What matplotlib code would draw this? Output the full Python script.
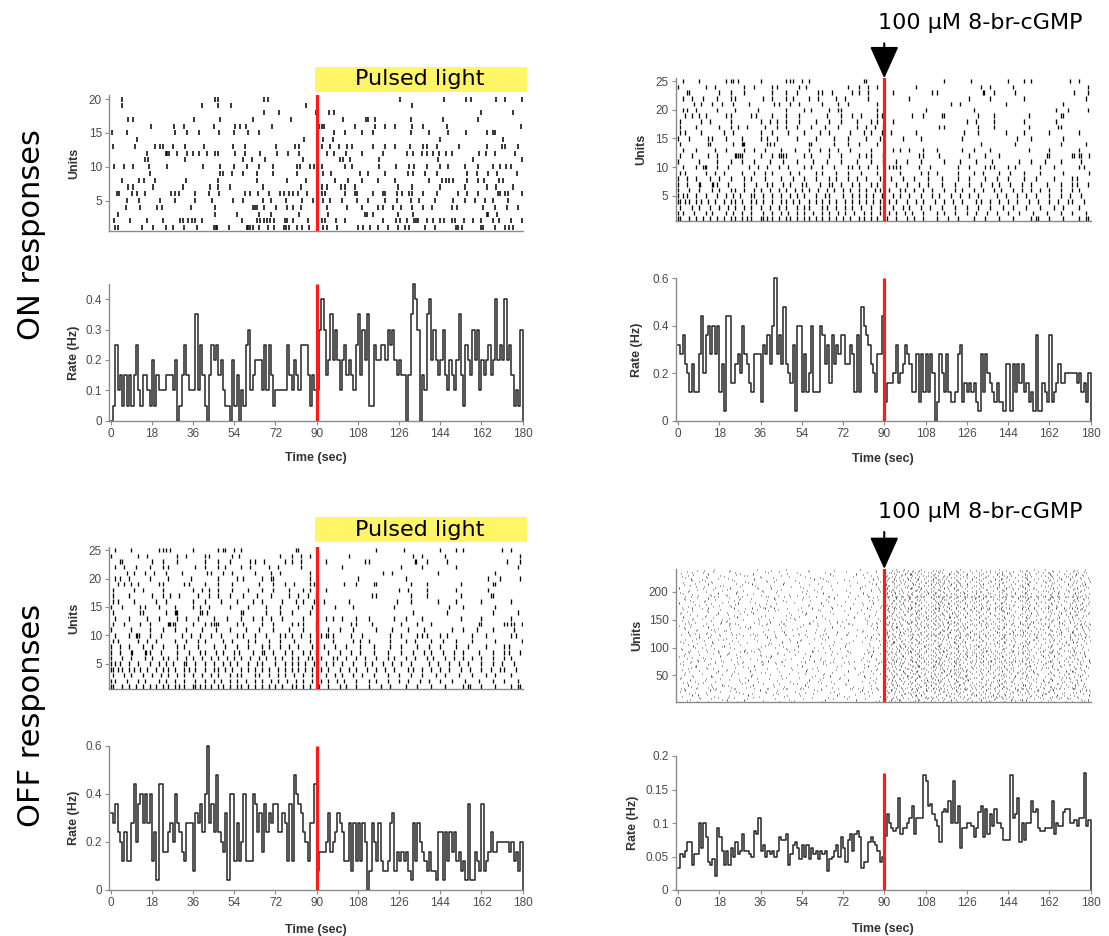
import numpy as np
import matplotlib.pyplot as plt
from matplotlib.transforms import blended_transform_factory
from matplotlib.patches import Rectangle

plt.rcParams['font.family'] = ['Liberation Sans', 'DejaVu Sans']

# ---------------- data ----------------
time_ticks = [0, 18, 36, 54, 72, 90, 108, 126, 144, 162, 180]
stim_time = 90

# ON responses, pulsed light: population rate (Hz), 1 s bins
on_light_rate = [
    0, 0.05, 0.25, 0.1, 0.15, 0.05, 0.15, 0.05, 0.15, 0.05,
    0.15, 0.25, 0.1, 0.05, 0.15, 0.15, 0.1, 0.05, 0.2, 0.05,
    0.15, 0.1, 0.1, 0.1, 0.15, 0.15, 0.15, 0.1, 0.2, 0,
    0.05, 0.15, 0.25, 0.15, 0.1, 0.1, 0.1, 0.35, 0.1, 0.25,
    0.15, 0.05, 0, 0.15, 0.25, 0.2, 0.25, 0.15, 0.2, 0.1,
    0.05, 0.05, 0, 0.2, 0.05, 0.15, 0, 0.1, 0.05, 0.25,
    0.3, 0.1, 0.15, 0.2, 0.2, 0.2, 0.1, 0.25, 0.1, 0.25,
    0.15, 0.05, 0.1, 0.1, 0.1, 0.1, 0.1, 0.25, 0.15, 0.1,
    0.2, 0.15, 0.1, 0.25, 0.25, 0.25, 0.15, 0.05, 0.15, 0.1,
    0.1, 0.3, 0.4, 0.3, 0.15, 0.2, 0.35, 0.2, 0.3, 0.2,
    0.1, 0.2, 0.25, 0.15, 0.2, 0.15, 0.1, 0.25, 0.35, 0.15,
    0.3, 0.2, 0.35, 0.05, 0.05, 0.25, 0.2, 0.2, 0.25, 0.25,
    0.2, 0.3, 0.25, 0.3, 0.2, 0.15, 0.2, 0.15, 0.15, 0,
    0.15, 0.35, 0.45, 0.4, 0.3, 0, 0.15, 0.1, 0.35, 0.4,
    0.2, 0.3, 0.2, 0.15, 0.2, 0.3, 0.15, 0.1, 0.2, 0.15,
    0.1, 0.2, 0.35, 0.15, 0.05, 0.25, 0.2, 0.15, 0.3, 0.2,
    0.3, 0.1, 0.2, 0.15, 0.2, 0.25, 0.15, 0.2, 0.4, 0.2,
    0.25, 0.2, 0.4, 0.2, 0.25, 0.15, 0.05, 0.1, 0.05, 0.3,
]

# panel shown twice (cGMP ON / pulsed light OFF): population rate (Hz)
shared_rate = [
    0.32, 0.28, 0.36, 0.24, 0.2, 0.12, 0.24, 0.12, 0.12, 0.28,
    0.44, 0.2, 0.36, 0.4, 0.28, 0.4, 0.28, 0.4, 0.12, 0.24,
    0.04, 0.44, 0.44, 0.16, 0.16, 0.24, 0.28, 0.2, 0.4, 0.28,
    0.24, 0.16, 0.12, 0.28, 0.28, 0.28, 0.08, 0.32, 0.28, 0.36,
    0.24, 0.4, 0.6, 0.28, 0.36, 0.24, 0.48, 0.24, 0.2, 0.16,
    0.32, 0.04, 0.4, 0.4, 0.12, 0.28, 0.12, 0.2, 0.4, 0.12,
    0.12, 0.12, 0.4, 0.36, 0.24, 0.32, 0.16, 0.36, 0.24, 0.32,
    0.28, 0.36, 0.36, 0.24, 0.24, 0.32, 0.28, 0.12, 0.36, 0.12,
    0.48, 0.4, 0.36, 0.32, 0.24, 0.2, 0.12, 0.28, 0.28, 0.44,
    0.08, 0.16, 0.16, 0.16, 0.2, 0.32, 0.16, 0.2, 0.24, 0.32,
    0.28, 0.24, 0.12, 0.12, 0.28, 0.08, 0.28, 0.12, 0.28, 0.12,
    0.28, 0.2, 0, 0.08, 0.28, 0.2, 0.12, 0.28, 0.12, 0.08,
    0.08, 0.12, 0.28, 0.32, 0.08, 0.16, 0.12, 0.16, 0.12, 0.16,
    0.08, 0.04, 0.28, 0.12, 0.28, 0.2, 0.16, 0.12, 0.08, 0.16,
    0.08, 0.08, 0.04, 0.24, 0.24, 0.04, 0.24, 0.12, 0.24, 0.16,
    0.24, 0.12, 0.16, 0.08, 0.12, 0.04, 0.36, 0.04, 0.04, 0.16,
    0.12, 0.08, 0.36, 0.08, 0.12, 0.16, 0.24, 0.16, 0.16, 0.2,
    0.2, 0.2, 0.2, 0.2, 0.16, 0.2, 0.12, 0.16, 0.08, 0.2,
]

# OFF responses, 8-br-cGMP: population rate (Hz)
off_cgmp_rate = [
    0.033, 0.054, 0.05, 0.058, 0.071, 0.071, 0.038, 0.054, 0.054, 0.1,
    0.063, 0.1, 0.079, 0.042, 0.038, 0.046, 0.021, 0.092, 0.079, 0.058,
    0.038, 0.058, 0.038, 0.063, 0.05, 0.071, 0.054, 0.058, 0.083, 0.058,
    0.058, 0.054, 0.05, 0.088, 0.083, 0.108, 0.058, 0.067, 0.05, 0.058,
    0.054, 0.058, 0.05, 0.058, 0.079, 0.075, 0.075, 0.083, 0.038, 0.054,
    0.067, 0.071, 0.063, 0.046, 0.067, 0.05, 0.067, 0.046, 0.063, 0.054,
    0.058, 0.046, 0.058, 0.054, 0.058, 0.029, 0.046, 0.05, 0.058, 0.067,
    0.05, 0.079, 0.063, 0.042, 0.075, 0.083, 0.058, 0.083, 0.088, 0.079,
    0.033, 0.042, 0.042, 0.071, 0.079, 0.071, 0.067, 0.058, 0.042, 0.05,
    0.08, 0.113, 0.1, 0.092, 0.088, 0.092, 0.137, 0.083, 0.092, 0.092,
    0.1, 0.108, 0.125, 0.083, 0.108, 0.108, 0.108, 0.171, 0.162, 0.125,
    0.129, 0.113, 0.104, 0.096, 0.071, 0.117, 0.121, 0.117, 0.133, 0.1,
    0.163, 0.1, 0.125, 0.063, 0.092, 0.092, 0.1, 0.1, 0.096, 0.079,
    0.092, 0.117, 0.125, 0.079, 0.121, 0.083, 0.113, 0.096, 0.121, 0.1,
    0.1, 0.092, 0.075, 0.075, 0.075, 0.171, 0.108, 0.113, 0.137, 0.071,
    0.1, 0.075, 0.1, 0.1, 0.133, 0.117, 0.121, 0.092, 0.088, 0.088,
    0.092, 0.092, 0.092, 0.133, 0.083, 0.1, 0.096, 0.096, 0.117, 0.121,
    0.121, 0.1, 0.1, 0.104, 0.096, 0.108, 0.108, 0.175, 0.096, 0.104,
]

# spike times (s), one list per unit, unit 1 first
on_light_spikes = [
    [1.9, 3.3, 13.5, 18.6, 24.2, 27.4, 32, 37.6, 45.1, 46, 46.6, 51.8, 59.4, 60.1, 60.9, 62, 64.9, 68.9, 71.4, 75.7, 76.6, 78.1, 81.6, 83.4, 86.8, 92.9, 94.4, 99, 108.2, 110.4, 113.3, 116.9, 121.3, 125.7, 128.6, 130.5, 137.3, 141.7, 150.9, 151.9, 153.3, 161.6, 162.5, 167.9, 172.3, 174.2, 175.6],
    [1.5, 8.4, 16, 23, 30.3, 31.5, 33.9, 35.4, 36.8, 39.8, 57.2, 63.8, 65.2, 67, 68.2, 69.6, 71.4, 76.2, 76.9, 79.8, 86.4, 92.2, 93.6, 98.4, 102.4, 118.8, 124.7, 126.4, 129.3, 132.5, 133.4, 134.4, 138.1, 141, 143.9, 145.6, 149, 150.4, 154.4, 158.4, 161.6, 167.2, 169.8, 174.7, 179.6],
    [3.3, 45.6, 55, 64.9, 69.9, 82.4, 95.1, 111.1, 112.1, 114.8, 125.7, 132.2, 164.3, 165, 168.6],
    [6.7, 12.8, 20.1, 22.3, 35, 45.6, 62.3, 63.1, 64.1, 67, 72.2, 76.9, 79.8, 83, 94.4, 103.1, 109.7, 116.9, 118.8, 123.5, 126.7, 131.5, 136.6, 140.2, 149, 151.2, 162.8, 167.9, 173, 178.1],
    [7, 12.5, 21.6, 28.1, 36.8, 44.1, 53.6, 57.7, 66.7, 69.9, 76.6, 83.4, 88.5, 92.9, 95.8, 100.9, 107.5, 112.6, 119.8, 125.2, 131.1, 134.8, 141.7, 149.4, 154.8, 159.2, 163.5, 167.2, 173.7],
    [2.9, 3.8, 9.2, 11.7, 15, 26.2, 28.1, 30, 36.8, 43.1, 47.5, 58.7, 60.9, 64.5, 69.3, 74, 75.7, 78.1, 79.8, 82, 85.9, 92.2, 93.6, 102.4, 106.7, 107.5, 114.8, 119.1, 119.8, 124.9, 127.1, 130.5, 131.5, 136.6, 142.4, 151.9, 155.8, 160.6, 169.4, 170.1, 172.3, 173.7, 179.6],
    [7.7, 9.6, 18.6, 31.7, 43.4, 47, 52.1, 66.4, 83, 92.2, 94.4, 100.5, 102.4, 106.7, 125.7, 131.5, 143.9, 154.8, 164.3, 168.3, 175.9],
    [4.8, 12.5, 14.6, 19.4, 32.9, 47, 63.8, 76.9, 85.3, 98, 103.8, 109.7, 116.9, 124.2, 139.2, 144.6, 146.5, 148, 149.7, 155.8, 160.6, 163.1, 169.8, 171.5],
    [17.2, 47.8, 48.9, 52.9, 57.7, 63.8, 71.1, 81.3, 92.6, 96.1, 108.9, 112.6, 119.8, 130, 132.2, 137.3, 142.4, 155.5, 159.9, 165, 168.9, 177.7],
    [1.5, 5.8, 9.6, 16.9, 24.8, 40.2, 47.8, 53.9, 59.7, 64.9, 71.1, 81.6, 82.7, 87.1, 88.8, 92.2, 102.4, 105.3, 117.4, 124.7, 130.5, 132.5, 138.1, 143.9, 147.5, 154.8, 160.6, 167.2, 170.1, 172.7, 174.7],
    [15, 16.5, 32.5, 57.7, 61.6, 67.4, 84.2, 100.2, 101.4, 104.6, 117.4, 143.1, 158.4, 179.5],
    [15.7, 24.2, 24.8, 25.6, 28.8, 33.2, 36.1, 38.7, 41.9, 45.6, 47, 54.3, 58.7, 65.2, 72.5, 77.6, 82.4, 90, 94.4, 97.6, 102.8, 109.7, 118.8, 129.3, 132.2, 135.9, 138.1, 140.7, 143.6, 146.5, 149, 161.1, 164, 167.9, 176.6],
    [1.2, 10.6, 19.4, 21.6, 23, 27.4, 32.5, 40.8, 53.3, 58.7, 72.2, 80.5, 82.4, 92.2, 95.8, 99.9, 103.4, 105.3, 114.8, 119.8, 124.2, 130.8, 136.6, 138.1, 142.4, 152.3, 164.3, 170.8, 172.3, 178.1],
    [11.4, 84.5, 92.9, 97.3, 143.9, 171.5],
    [0.4, 7, 28.1, 33.5, 38.7, 47.5, 53.9, 60.1, 64.9, 97.6, 102.4, 109.7, 114.8, 131.1, 139.2, 147.5, 155.2, 164.3, 167.2, 167.9],
    [17.5, 27.7, 32, 45.3, 54.3, 56.5, 59.1, 70.3, 91.2, 92.2, 93.2, 106.7, 115.5, 119.8, 124.2, 131.5, 136.6, 146.8, 179.1],
    [7.7, 9.9, 36.6, 47.8, 62, 78.6, 101.4, 111.5, 112.6, 115.5, 131.2, 145.3, 160.6],
    [67, 73.7, 89.7, 95.5, 97.6, 161.6, 175.6],
    [4.8, 39.7, 47, 52.4, 85.3, 131.5],
    [4.8, 45.6, 47, 66.9, 68.9, 126.4, 145.6, 155.2, 157.3, 168.3, 172.3, 179.5],
]

shared_spikes = [
    [0, 1, 5, 8, 11, 14, 17, 20, 23, 25, 28, 30, 32, 36, 37, 39, 41, 44, 47, 49, 52, 55, 57, 60, 63, 66, 69, 72, 75, 79, 81, 84, 87, 91, 95, 100, 103, 107, 113, 118, 122, 129, 134, 140, 146, 154, 156, 157, 162, 168, 175, 178, 179],
    [0, 2, 7, 12, 15, 21, 24, 28, 32, 37, 41, 45, 48, 52, 55, 59, 63, 66, 70, 73, 77, 81, 84, 88, 92, 95, 99, 102, 107, 113, 116, 121, 126, 130, 135, 139, 144, 149, 155, 161, 167, 172, 178],
    [1, 6, 9, 14, 18, 22, 25, 29, 32, 36, 40, 44, 47, 52, 55, 57, 63, 65, 69, 73, 76, 80, 84, 88, 94, 98, 101, 106, 110, 115, 121, 126, 131, 136, 142, 146, 152, 158, 164, 168, 175],
    [0, 1, 3, 5, 8, 10, 13, 16, 20, 23, 25, 28, 32, 34, 37, 41, 45, 47, 50, 53, 57, 60, 63, 66, 69, 73, 76, 79, 82, 85, 88, 92, 95, 100, 104, 107, 112, 116, 120, 124, 130, 132, 136, 140, 144, 148, 153, 157, 162, 166, 170, 172, 177],
    [0, 2, 4, 8, 12, 17, 21, 24, 27, 32, 33, 37, 41, 45, 49, 52, 55, 60, 64, 66, 72, 76, 79, 82, 85, 89, 94, 97, 101, 106, 111, 114, 119, 123, 127, 131, 139, 143, 148, 152, 156, 162, 167, 171, 176],
    [0, 5, 9, 15, 18, 23, 25, 29, 33, 36, 40, 44, 47, 51, 54, 57, 61, 65, 68, 72, 75, 79, 82, 86, 88, 92, 97, 99, 103, 107, 111, 116, 121, 124, 129, 133, 138, 141, 146, 150, 154, 158, 162, 167, 172, 175],
    [0, 4, 9, 9.5, 15, 15.3, 17, 22, 29, 34, 39, 41, 46, 49, 54, 56, 62, 66, 67, 71, 76, 79, 84, 87, 89.5, 95, 100, 105, 109, 115, 121, 127, 132, 137, 140, 145, 150, 154, 161, 167, 172, 174, 179],
    [0, 4, 8, 14, 18, 23, 29, 32, 38, 45, 50, 55, 60, 66, 69, 74, 78, 82, 88, 93, 98, 103, 109, 115, 122, 127, 134, 139, 144, 151, 156, 164, 172, 174],
    [1, 3, 12, 16, 20, 28, 33, 38, 41, 49, 53, 60, 63, 69, 74, 80, 87, 97, 106, 109, 113, 122, 129, 133, 140, 145, 151, 158, 168, 179.5],
    [2, 8, 11, 11.6, 12.4, 17, 22, 31, 35, 39, 44, 48, 55, 58, 63, 68, 74, 76, 79, 83, 87, 92, 94, 95, 97, 105, 110, 122, 127, 134, 136, 138, 144, 147, 158, 164, 175, 177],
    [0, 9, 17, 23, 28, 33, 40, 46, 52, 59, 65, 71, 78, 84, 89.5, 95, 100, 106, 116, 123, 130, 137, 149, 154, 160, 167, 176],
    [1, 6, 13, 17, 25, 25.5, 26, 27, 28, 36, 41, 44, 45, 46, 47, 55, 58, 66, 71, 79, 82, 84, 89.5, 105, 107, 114, 127, 134, 140, 161, 162, 172, 173, 175, 176, 179.5],
    [2, 8, 16, 21, 29, 33, 38, 45, 51, 57, 62, 66, 70, 75, 84, 94, 97, 101, 107, 113, 124, 129, 136, 153, 162, 175],
    [1, 13, 14, 24, 28, 28.5, 29, 39, 40, 42, 57, 58, 68, 74, 79, 87, 132, 147, 167, 178],
    [0, 5, 13, 15, 21, 28, 36, 39, 43, 52, 60, 68, 74, 82, 88, 98, 106, 124, 148, 154, 168],
    [1, 3, 10, 20, 24, 36, 41, 48, 55, 62, 66, 75, 81, 84, 89, 93, 104, 125, 131, 143, 151, 162, 175],
    [1, 8, 18, 23, 26, 30, 38, 43, 47, 52, 58, 64, 70, 78, 82, 86, 89.5, 114, 116, 131, 138, 153, 166, 167],
    [1, 10, 14, 23, 36, 40, 43, 47, 53, 60, 66, 71, 78, 84, 87, 94, 126, 130, 138, 151, 165],
    [3, 6, 9, 12, 21, 23, 32, 34, 41, 47, 53, 65, 71, 76, 80, 87, 89, 102, 107, 115, 116, 131, 138, 153, 167, 168],
    [2, 4, 8, 17, 25, 35, 47, 55, 58, 66, 70, 71, 87, 108, 129, 165, 170, 179],
    [7, 10, 15, 19, 24, 31, 42, 44, 49, 53, 63, 70, 74, 87, 119, 123, 143, 168],
    [2, 6, 11, 17, 23, 25, 37, 41, 47, 50, 57, 61, 69, 73, 83, 101, 127, 136, 151, 178],
    [4, 5, 18, 23, 29, 41, 47, 52, 61, 63, 67, 76, 79, 83, 94, 111, 113, 133, 133.5, 138, 147, 173, 179],
    [0, 12, 16, 29, 33, 41, 43, 53, 56, 74, 79, 83, 87, 104, 132, 136, 146, 179],
    [2, 9, 21, 23, 24, 26, 36, 47, 49, 50, 54, 57, 81, 82, 116, 128, 144, 151, 154, 171, 175],
]

# 240-unit raster, one string per unit (unit 1 first).
# code: first char = tens of seconds (0-9, a-h); second char = seconds within
# the ten, a digit for whole seconds or a-j for n + 0.5 s
off_cgmp_codes = [
    "0g 3b 3e 72 94 9j a6 bd c2 c9 ea f1 h3", "1a 26 5h 83 9b b4 b7 c3 dc ei f6 g0 gf hd",
    "08 44 49 97 a1 ac bh d6 e2 ec f8 g4 hb", "13 2f 6c 86 92 9e a7 b2 cb c5 d0 f3 g9 h6",
    "0d 37 5a 8h a3 b0 bf c8 d4 df e7 g1 h7", "21 2i 64 7h 96 9c ae b9 d2 e5 f0 fb hi",
    "05 19 48 9g a5 b3 c1 c6 dh e9 gc hf", "30 5e 6h 8b 93 a0 ai c4 d8 e3 ef f5 g6 h1",
    "0j 14 42 7d 9a 9f b6 ba cg d1 eb f9 h0", "17 3c 58 98 a4 a9 b1 c0 dd e1 fh g2 gj",
    "09 24 2b 65 9d ah b5 c7 d3 d9 f2 g7 he", "1f 46 72 7e 91 a2 bc bi c3 dg e6 ea fd h4",
    "0b 35 88 95 a8 b0 ce d5 di e4 f7 g3 ge", "22 4h 53 83 9h a3 b8 c2 c9 e0 f4 g8 hc",
    "06 0i 3a 69 90 a6 ad bg d0 d7 ec fi g5 h9", "1c 41 77 97 ab b3 c6 ch d2 e8 f0 f6 h1",
    "0e 28 5c 5i 81 99 a1 b9 cc d9 e2 f3 gh hg", "32 4d 70 94 9i a7 b4 c0 c8 dd ee g0 ga",
    "12 2g 55 8e 9b ac bh c3 d1 e6 f9 g4 h2", "07 38 4c 66 92 a0 a5 bb ci d6 dj f1 g8 hd",
    "25 3h 79 96 ag b2 b6 c4 e3 e9 fc gb h5", "0a 18 51 68 8c 9e a3 bf cb d3 ef f5 g1 hj",
    "2c 43 6a 91 98 ai b0 c7 d8 e0 f2 fg h5", "03 1d 3f 80 9c a4 a8 bd c1 d4 eh f7 gd h8",
    "16 59 62 87 93 ab b7 c5 cf d0 e4 e8 g2 h9",
    "01 0h 15 1g 24 2e 33 3i 47 4h 53 5e 62 6j 75 7f 84 8g 90 95 9h a2 a8 ad b1 b6 bc bj c3 c8 ce d2 d6 dh e1 e7 ed f0 f4 fb fj g3 g8 ge h2 h6 hc",
    "0c 39 4f 7i 99 a2 b1 be c6 d5 e1 fa g6 h2", "23 2j 5d 86 94 a9 b4 bb c2 cj e3 e7 f9 gg hb",
    "08 13 67 8a 97 9j ae c0 c5 d8 ej f3 g4 h3", "1e 46 4b 92 a1 a6 b9 ch dc e2 f6 fh h0",
    "0f 31 5g 76 9a af b3 c1 d3 d9 eb g2 gc hh", "20 2b 6e 84 96 a3 b7 bf c9 d1 e5 fd g7 hg",
    "04 19 3c 55 89 9f a8 b0 cc d6 e0 f1 fa h3", "14 41 73 93 9d a5 bi c3 c7 dd e8 g0 g9 he",
    "0i 2h 50 5b 98 a0 ab b2 ce d4 eg f4 gf h7", "37 44 68 7c 91 a4 b6 bc c0 d0 e1 ea f8 g5",
    "02 1a 62 8f 9c ah b1 c4 ca dg e3 f0 gh h4", "0d 29 56 83 95 a2 a7 bd c8 d2 dj f3 g1 hb",
    "16 3e 4i 9i a9 b4 c2 d7 e5 ef fj g8 h1", "07 27 61 6g 80 90 a1 b0 b8 cb d1 e2 f6 gb",
    "1b 43 85 97 9e a6 be c5 d9 d4 ec f2 h4", "05 3a 57 74 93 a3 ai b3 c1 cg e0 f9 g3 hf",
    "22 2g 6b 9b a7 b2 bh c6 d5 e6 fe g7 hd", "0a 12 45 86 96 a0 ad c0 c4 dc e9 f1 gc h8",
    "18 34 3j 70 92 9g b5 ba c7 d2 e1 f6 g2 h1", "01 5c 63 8b 98 a4 a8 b6 cd d0 dh f0 fc g9",
    "29 47 7a 8d 9d ab b1 c3 c9 d7 e4 eg gh ha", "0g 1e 58 91 a2 af bc c2 d3 e2 f4 g0 g6 hc",
    "14 3b 66 81 94 9j a5 b0 b9 cf e7 fb h5", "06 23 4e 5j 9a a0 b4 bg c5 d8 e3 ea g4 hi",
    "32 72 7i 97 ae b2 c1 cc d4 dj f7 g8 he", "0c 19 40 63 93 9f a7 b7 c6 d1 eb f2 gd h6",
    "26 2d 55 85 99 a3 ah bb c0 d6 e0 e5 fg h0", "10 48 6d 88 95 ac b3 b8 c8 dc e2 f0 g1 ha",
    "03 36 3h 79 90 9i a6 be c3 d2 e8 f5 g6 hh", "1g 52 67 9c a1 b0 b5 ca d7 eh fa gc h3",
    "0e 24 44 8a 94 a9 ad c2 c7 d0 e4 f1 g2 h2", "17 31 5f 74 98 a4 b6 bi cf d5 e1 fe g9 hb",
    "09 2a 61 84 92 9d a2 b1 c4 db e6 e9 f3 h7", "0b 3d 4j 86 9g a8 b9 c0 c6 d3 ed f8 g5 hf",
    "21 56 6i 92 96 ab b2 bf c1 d8 e0 f4 gf h1", "04 15 3i 77 91 9j a6 b4 ci d2 d6 e5 fb h3",
    "1c 43 58 8g 95 a0 ag b7 c2 cd e3 f0 g4 hd", "0f 2e 6a 81 9b a3 b0 bc c8 d4 ea f6 ga h5",
    "12 3a 49 7g 99 a7 b5 c3 d0 d9 e6 fi g1 hi", "07 28 69 93 9e a2 bb c5 ch e0 f2 g7 hc",
    "0h 33 54 8c 97 a5 ae b1 c0 d6 e2 fd g3 h8", "19 46 71 8f 90 ac b4 bh c9 d1 e8 f3 gg",
    "02 24 5b 6e 96 a1 a9 b6 cc d7 ef f9 h1 hf", "13 3g 81 9a a4 b2 be c3 d3 e4 f5 g8 ha",
    "0a 26 4c 63 94 9h a8 bd c6 cj e1 fb g0 h4", "1d 37 7e 87 9c a0 b3 b9 c1 d5 e9 f1 gd h5",
    "05 2h 55 66 92 ad b0 c4 ca d2 e3 fg g6 hj", "16 42 72 8h 98 9g a6 b5 ch d8 e5 f3 ga",
    "02 0f 16 1j 28 2f 36 3g 45 4e 55 5d 63 6h 74 7g 83 8i 90 94 9b 9i a3 a9 ad b2 b8 bd c1 c7 cc d0 d5 db e0 e4 ea ef f3 f8 fe g1 g6 gc h0 h5 hb",
    "0i 39 59 95 a2 a7 bc c0 d3 dg e7 f0 g2 h9", "11 1i 64 82 9a a5 b1 b6 c8 d6 e2 ei g8 hg",
    "08 34 4g 86 97 9d ab bh c3 d0 e6 f4 fb h9", "23 57 6b 7j 93 a1 b4 c1 cf d8 ec f7 g3 he",
    "0d 1b 49 99 a8 b0 b9 c5 d2 e0 f0 g9 h4", "14 31 68 86 91 9f a4 bd c2 d4 dh f2 g5 hc",
    "06 2f 5e 8a 96 ag b3 b8 cb d9 e4 fc h1", "1a 40 62 7b 9c a2 a6 be c7 d1 e7 f5 g0 h6",
    "00 27 38 84 94 ab b2 c0 c4 d6 eb f1 gb ha", "18 4a 5h 84 98 a5 bg c6 d0 d3 e1 f9 g4 hh",
    "0c 36 73 90 9h a9 b1 cc d8 e5 fe g7 h2", "21 25 51 6g 8e 95 a3 b5 bc c1 d2 eg f3 h3",
    "09 3f 46 9b a6 b0 c8 cf d5 e3 f8 g1 hb", "15 2b 69 81 92 a0 ae b7 c3 d0 e8 fa gf h7",
    "03 43 55 88 97 9e a4 bi c5 d7 e0 f2 g6 h7", "1h 30 75 99 a7 b2 b9 c9 dc e4 f6 g2 hd",
    "0e 22 4d 64 8c 93 ab b4 c0 c6 d1 ea f0 gc h5",
    "04 0i 1c 27 33 3f 48 52 5i 67 74 83 91 95 9c a0 a5 ab b1 b6 bd c2 c8 cf d3 d9 dg e2 e8 ef f3 fa fh g5 gb h1 h7",
    "17 2i 58 85 96 a1 a8 bf c2 d4 e6 f9 g3 hc", "05 3b 61 7d 9a a3 b1 b7 c4 d8 de f1 g8 h0",
    "12 29 4h 96 9j ac b3 c9 d2 e1 f4 gd h2", "0b 35 5a 82 90 a5 b0 bg c6 d6 e5 fc g0 hi",
    "24 47 66 8j 98 a2 a9 b4 cb d0 eb f0 g6 h6", "01 1f 3e 7a 93 9f a6 bc c1 d3 e2 f7 gg",
    "10 42 59 87 97 a0 b8 c0 c7 dd e3 f2 g2 hb", "07 2c 63 85 92 ab b2 b6 cf d5 e8 fh g7 h3",
    "19 36 4f 95 a4 ah b9 c4 d1 e0 f5 g1 hg", "0g 20 52 7c 99 9g a7 bd c2 da e6 fa gc",
    "14 3h 6f 8d 91 a1 b3 c5 c9 d8 e1 f1 g8 h4", "04 27 44 88 96 a9 b0 bi d0 d4 eg f8 g3 ha",
    "1b 39 6h 9c a3 a8 b4 c7 d2 e4 fc h0 hf", "08 22 57 73 93 9i ae b1 c3 dh e9 f2 g5 h8",
    "15 4a 62 83 98 a6 b7 be c1 d6 e0 f6 gh", "02 30 3j 7e 91 a2 ab b3 ca d4 ec f0 g0 hd",
    "1e 45 5b 94 9d a5 c0 c5 d9 e2 f3 g9 h2", "0a 26 68 80 97 a0 ag b8 cd d1 e7 fb g2 h4",
    "11 34 53 8h 92 9h a4 b2 c8 d3 e5 f7 g6 hj", "06 2d 4i 76 9a a8 b5 bb c2 dc e0 f1 gd h7",
    "1j 40 64 95 a1 ad bg c4 d7 eg fe g4 hb", "03 17 5d 8d 99 a6 b0 c1 ci d0 e3 f5 gb h1",
    "2a 48 71 86 93 9g ab b4 c6 d5 e1 f9 g0 he", "0h 33 59 6c 90 a3 a9 bf c0 d2 ea f2 g7 h6",
    "13 25 4c 8b 96 a7 b3 b9 cc d8 e6 fg g3", "09 3i 65 84 9b a2 bh c3 c7 d1 e2 f6 h1 hh",
    "1d 42 56 94 9e a5 b6 ca d4 eb f0 g8 h9", "05 28 6b 7h 97 a0 ai b2 c5 dd e7 f3 gc h3",
    "18 3d 50 82 92 a8 b0 bc c1 d6 e0 f1 g5 hf",
    "01 09 14 1h 25 2d 34 3h 42 4g 55 5c 63 6i 73 7d 85 8h 91 96 9d a1 a6 ac b0 b5 bb bh c3 c9 cf d1 d7 dd e2 e6 ec eh f5 fa fg g2 g7 gd h1 h8 he",
    "0e 31 47 96 a4 ae b7 c2 cg e1 e9 f8 g1 hc", "12 2g 6e 87 9a 9i a9 b3 c6 d3 e4 fd g6 h5",
    "07 3c 52 89 93 a2 b1 bd c9 d0 ee f5 gb hh", "1c 23 5j 74 98 a6 af b8 c3 d5 e0 f2 g0 h2",
    "04 46 69 91 9g b4 bi c7 d9 e6 fa g7 hb", "16 37 4b 80 95 a1 a7 b0 cc d1 e3 f7 ge h7",
    "0h 2a 5f 8a 99 ab b6 c1 c4 d8 e9 f1 g3 h0", "20 45 6d 92 a3 a8 bf c8 d2 ef f4 gc h2",
    "08 14 39 78 96 9d b2 b9 c0 d6 e1 f9 g2 hg", "1f 4j 60 86 9a a0 ae b5 cb d3 e7 f0 gg h9",
    "03 2c 5b 85 93 a5 b1 bc c5 dj e4 fh g5 hd", "17 3a 64 98 9j ab b7 c2 d0 e0 f6 g9 h4",
    "0c 27 4e 72 90 a4 a9 b3 ce d7 eb f2 h0 hi", "13 31 67 8g 95 9f a7 bh c6 d4 e2 fc g1 h6",
    "05 29 53 89 9c a1 b0 b6 c3 d9 e8 f5 g6 hc", "1a 3g 7a 93 ad b4 c0 c9 d2 e0 f1 gb h8",
    "00 22 4g 61 84 97 a6 ai bd c4 d5 eg f9 g4 h3", "15 38 5e 91 9h a3 b2 c7 dd e5 f3 g8 hf",
    "0f 26 44 7f 9b a9 b8 bf c1 d0 e3 fa h5 hj",
    "03 0e 18 22 2c 35 3i 46 4f 57 5h 66 74 7e 82 8g 90 93 9a 9g a4 aa af b3 b9 bf c2 c8 cd d2 d8 de e3 e9 ef f2 f8 fd g0 g6 gb gh h4 h9 hf",
    "12 2e 6a 8e 95 a0 a8 bb c5 dg e2 f0 g0 h7", "07 33 57 86 9d a4 b1 b7 cb d4 e6 f7 gh hc",
    "1i 40 69 92 9j ab bh c0 d1 e9 fe g6 h1", "04 2a 4e 7b 96 a2 a6 b5 c6 d7 e0 f4 gc hh",
    "14 35 5i 88 99 ad b2 bc c3 dc e4 f1 g3 h5", "0b 21 6f 82 90 a7 b0 b9 ch d3 eb fb g8",
    "19 47 51 94 9e a3 bg c7 d0 e1 f6 g1 ha", "06 28 3j 73 98 a1 ai b4 c2 d6 e6 fh gd h2",
    "10 3e 64 8b 93 a5 b1 bd c9 d4 ec f2 g5 he", "0g 22 5a 87 9a 9h a9 b6 c3 d9 e0 f8 gb",
    "15 41 4i 96 a3 ae b2 c0 dd e8 f3 g0 h6", "02 2f 60 7g 91 a8 b8 bi c5 d1 e2 fb g6 hb",
    "1b 36 5c 83 97 9f a4 b3 cb d5 eg f0 ga h0", "08 24 47 83 92 a1 a9 bc c1 d2 e5 f6 h3 hg",
    "12 3h 6c 9c ag b0 b6 c7 d8 e1 fd g2 h8", "05 2b 55 74 95 a5 b4 bf c4 d0 e9 f2 g9 hd",
    "1g 30 49 8f 99 9i ab b8 c2 dh e6 f7 gf h4", "0a 27 6h 81 93 a2 a6 b1 ca d3 e0 f0 g4 hi",
    "17 3c 5f 90 ad b5 bj c6 d6 ed f4 g7 h1", "01 21 48 78 96 9d a8 b2 c3 d1 e4 fg gc h9",
    "13 3b 66 89 98 a4 b0 bb c8 da e2 f1 g1 he", "0d 2i 54 86 92 a0 ah b7 c0 d4 e7 f9 g6 h3",
    "1c 42 6b 9b 9j a5 bd c5 d8 eb f3 gi hc", "06 26 39 72 94 a3 b3 bg c2 d0 e1 f6 g2 h7",
    "18 4d 61 8d 97 a9 ae b6 ch d5 e5 fb g9 hh", "02 34 52 7j 91 a1 b1 b9 c7 d2 ea f0 g3 h5",
    "10 29 4h 95 9g a6 bc c4 de e0 f8 h6 hf",
    "06 13 24 32 3h 4b 58 67 75 82 90 94 9b a0 a6 ab b2 b8 bd c1 c9 ce d2 d8 df e4 ea f0 f5 fc g1 g8 ge h4 hb",
    "0b 37 5d 88 99 a2 a8 b3 c1 d3 e3 f5 g0 ha", "15 23 6g 84 93 9e ab b7 c6 d9 e8 f1 gb h3",
    "04 3f 4a 96 a3 b0 bf c3 d0 e1 fa g5 hg", "1h 2c 5g 71 9a a7 ae b4 c8 d4 e6 f3 g1 h8",
    "09 40 63 8i 92 9i b1 b9 c2 dc e0 f7 ge h1", "12 35 57 8a 97 a5 b6 bd c6 d1 e4 f0 g7 hd",
    "07 2e 69 91 a1 a9 b2 cb d6 eg fd g3 h5", "14 38 4c 76 95 9c ad b8 c0 d2 e3 f2 h1 hi",
    "00 26 62 85 98 a3 b3 bh c5 d8 ea f6 gc h6", "19 3d 5a 80 93 a6 b0 b5 c9 d4 e1 f1 g0 hb",
    "0g 2b 47 9g a2 ab bc c3 de e7 f8 g9 h3", "11 31 65 7c 90 a8 b4 c1 c7 d0 e2 f3 gf h9",
    "05 24 4f 8e 96 9d a5 be c2 d5 e9 fb g4 he", "1b 3i 5h 83 94 a0 b2 b9 cd d1 e5 f0 g8 h2",
    "03 2g 6e 99 a7 af b6 c4 d7 e0 f5 g1 hc", "16 42 54 87 92 9i a4 bg c8 d2 ec f2 gb h7",
    "0c 27 3b 77 97 a1 b1 bb c0 d9 e3 f7 g6 hg", "13 4b 68 95 aa b5 c5 cj d3 e8 fc g2 h4",
    "08 22 5e 85 9b a3 b0 b8 c1 d0 e1 f1 gd hi", "1f 39 60 8c 91 9f a6 bd c6 d6 eb f9 g3 h0",
    "03 0f 17 26 2h 38 46 4i 57 65 6f 74 83 8g 90 92 95 98 9b 9e 9h a1 a4 a7 aa ad ag b0 b3 b6 b9 bc bf bi c2 c5 c8 cb ce ch d1 d4 d7 da dd dg e0 e3 e6 e9 ec ef f1 f4 f7 fa fd fg g0 g3 g6 g9 gc gf gi h2 h5 h8 hb he",
    "0i 21 4d 93 a4 b3 b7 c3 d4 e5 f0 g0 h6", "14 36 5b 7i 97 a0 af bb c9 d1 e9 f6 g5 hd",
    "06 2a 69 89 9a a8 b1 bg c1 d8 e0 f2 gc h2", "1d 30 48 82 93 9j a2 b4 c6 d3 ed f8 g2 hh",
    "02 3c 5f 96 a6 ab b9 c0 d6 e3 f4 g8 h9", "17 25 63 8a 91 9e a9 b2 ce d0 e7 f1 gf h3",
    "0a 4c 75 98 a2 b6 bc c3 d5 e1 fb g3 he", "12 2f 54 88 94 a5 ai b0 c8 db e5 f0 g6 h5",
    "04 37 6a 9c a0 a7 bf c4 d2 e0 f7 g1 ha", "19 43 56 84 92 9h ad b4 c1 d7 eb f2 ga h0",
    "0e 28 3g 73 96 a3 b1 b8 c6 d0 e2 f9 g4 hf", "15 4e 67 8h 9a a8 af bd c2 de e6 f3 h2",
    "08 21 59 84 93 9d a4 b3 cb d4 e1 f6 g9 h7", "1a 3e 62 97 a1 b0 bh c5 d1 e8 fe g2 hc",
    "00 2c 4a 79 91 a6 ab b6 c0 d9 e3 f1 gd h4", "16 34 5e 87 95 9j a2 bb c8 d3 ef f5 g5 hi",
    "0h 27 6c 80 99 a5 b4 c1 c6 d6 e0 f0 g0 h8", "11 49 53 94 ae b1 b7 cd d2 e4 fa g7 h1",
    "05 1j 3d 75 9b a0 a9 bi c3 d0 e9 f3 gc hg", "18 40 6g 8b 92 9f a7 b5 c9 d7 e2 f8 g1 h5",
    "0c 2h 57 96 a3 b2 bd c1 db e5 f0 g6 hb", "13 32 4f 86 9a ac b0 b9 c6 d3 e0 fc h0 hh",
    "07 25 61 8e 94 9i a5 bf c3 d8 e7 f2 g3 h6", "1e 3a 5c 78 90 a8 b3 b6 cc d1 e1 f6 ga hd",
    "02 46 69 97 a2 ah bc c0 d5 eb f1 g4 h2", "14 29 3i 83 93 9d b1 b8 c7 d0 e3 fd g8 hj",
    "09 4b 65 88 99 a6 ad b4 c2 dg e6 f3 g0 h7", "1b 24 51 7e 95 a1 b0 bh c5 d2 e0 f9 gb h4",
    "06 38 6e 91 9g a9 b6 cb d6 e8 f0 g5 hc", "10 2d 4c 72 98 a4 b3 bd c1 d1 e4 f5 g2 h9",
    "0f 33 59 85 94 a0 ae b1 c8 d8 ea f2 g7 h1", "17 2b 63 87 9b a7 b5 bg c3 d3 e1 f7 gd hf",
    "03 41 5h 92 9j a3 b9 c6 d0 e7 f1 g1 h5", "1c 36 6b 81 96 ab b2 bc c0 dd e3 fb g6 hi",
    "0b 20 48 8g 9a a5 a8 b7 c9 d4 e0 f4 g3 h0", "12 3f 55 76 93 9e b0 bf c4 d7 ed f0 g9 hb",
    "04 2i 6h 97 a2 ag b3 c1 d1 e5 f8 gc h3", "18 30 4e 84 91 a9 b6 bb cf d5 e2 f2 g0 hg",
    "0g 25 53 8a 95 9h a4 b1 c3 d2 e8 fd g5 h6", "13 3c 66 7h 99 a1 ab b8 c6 d9 e1 f1 g2 hd",
    "01 27 4h 94 a6 b2 bi c0 d3 ee f6 g8 h1", "1a 39 5b 82 9c 9j a9 b5 c8 d6 e0 f3 gb h8",
    "06 2e 64 89 92 a3 b0 bd c2 d1 e4 f9 g1 he", "15 44 57 73 96 a7 ae b3 cb d8 e6 f0 g6 h2",
    "0d 22 3h 86 90 9f a2 b9 c4 d4 e1 f7 gd h7", "11 4a 68 86 98 a5 b4 bc c1 d0 e9 f2 g3 hc",
    "08 2c 5g 93 a0 ac b1 c7 d6 e3 fb g9 h4", "1f 34 47 79 95 9i a6 bf c3 d2 e0 f5 g0 hh",
]


def decode(code):
    times = []
    for tok in code.split():
        c = tok[1]
        sec = int(c) if c.isdigit() else ord(c) - ord('a') + 0.5
        times.append(int(tok[0], 18) * 10 + sec + 0.25)
    return times


off_cgmp_spikes = [decode(c) for c in off_cgmp_codes]

# ---------------- layout ----------------
W, H = 1109, 936
fig = plt.figure(figsize=(W / 100, H / 100), dpi=100)

SPINE = '#8a8a8a'
TXT = '#4a4a4a'
RED = '#ff1a1a'


def add_ax(x0, y0, x1, y1):
    return fig.add_axes([x0 / W, 1 - y1 / H, (x1 - x0) / W, (y1 - y0) / H])


def style(ax, xlim):
    for s in ['top', 'right']:
        ax.spines[s].set_visible(False)
    for s in ['left', 'bottom']:
        ax.spines[s].set_color(SPINE)
        ax.spines[s].set_linewidth(1.0)
    ax.tick_params(direction='out', length=3, width=0.8, color=SPINE,
                   labelcolor=TXT, labelsize=8.5, pad=2)
    ax.set_xlim(*xlim)


def raster(ax, spikes, xlim, ylim, yticks, ll, lw, color, labx):
    style(ax, xlim)
    ax.eventplot(spikes, lineoffsets=np.arange(1, len(spikes) + 1),
                 linelengths=ll, linewidths=lw, colors=color)
    ax.set_ylim(*ylim)
    ax.set_xticks([])
    ax.set_yticks(yticks)
    ax.axvline(stim_time, color=RED, lw=2.3, zorder=5)
    ax.set_ylabel('Units', fontsize=9, fontweight='bold', color='#333333')
    ax.yaxis.set_label_coords(labx, 0.5)


def rate_plot(ax, rate, xlim, top, yticks, red_top, labx, laby):
    style(ax, xlim)
    t = np.arange(len(rate) + 1)
    ax.step(t, np.append(rate, 0), where='post', color='#262626', lw=1.1,
            clip_on=False)
    ax.set_ylim(0, top)
    ax.set_yticks(yticks)
    ax.set_yticklabels([f'{v:g}' for v in yticks])
    ax.set_xticks(time_ticks)
    ax.vlines(stim_time, 0, red_top, color=RED, lw=2.3, zorder=5)
    ax.set_ylabel('Rate (Hz)', fontsize=9, fontweight='bold', color='#333333')
    ax.set_xlabel('Time (sec)', fontsize=9, fontweight='bold', color='#333333')
    ax.yaxis.set_label_coords(labx, 0.5)
    ax.xaxis.set_label_coords(0.5, laby)


LX = (-0.75, 180.15)
RX = (-1.1, 180)

# ON, pulsed light
ax1 = add_ax(109, 95, 523, 231)
raster(ax1, on_light_spikes, LX, (0.5, 20.6), [5, 10, 15, 20], 0.75, 1.1, 'k', -0.07)
ax2 = add_ax(109, 284.1, 523, 420.7)
rate_plot(ax2, on_light_rate, LX, 0.45, [0, 0.1, 0.2, 0.3, 0.4], 0.45, -0.07, -0.229)

# ON, 8-br-cGMP
ax3 = add_ax(675.5, 78.3, 1090.5, 221)
raster(ax3, shared_spikes, RX, (0.6, 25.5), [5, 10, 15, 20, 25], 0.8, 0.95, 'k', -0.068)
ax4 = add_ax(675.5, 278.3, 1090.5, 420.7)
rate_plot(ax4, shared_rate, RX, 0.6, [0, 0.2, 0.4, 0.6], 0.6, -0.078, -0.225)

# OFF, pulsed light
ax5 = add_ax(109, 546.7, 523, 689.3)
raster(ax5, shared_spikes, LX, (0.5, 25.6), [5, 10, 15, 20, 25], 0.8, 0.95, 'k', -0.07)
ax6 = add_ax(109, 746, 523, 890)
rate_plot(ax6, shared_rate, LX, 0.6, [0, 0.2, 0.4, 0.6], 0.6, -0.07, -0.235)

# OFF, 8-br-cGMP
ax7 = add_ax(675.5, 569, 1090.5, 701.7)
raster(ax7, off_cgmp_spikes, RX, (3, 241), [50, 100, 150, 200], 2.0, 0.7, '#4a4a4a', -0.078)
ax8 = add_ax(675.5, 756, 1090.5, 890)
rate_plot(ax8, off_cgmp_rate, RX, 0.2, [0, 0.05, 0.1, 0.15, 0.2], 0.175, -0.088, -0.248)

# pulsed light bars
for ax, y0, y1, ty in [(ax1, 1.022, 1.206, 1.114), (ax5, 1.033, 1.208, 1.12)]:
    tr = blended_transform_factory(ax.transData, ax.transAxes)
    ax.add_patch(Rectangle((89.3, y0), 92.7, y1 - y0, transform=tr,
                           facecolor='#fff566', edgecolor='none', clip_on=False))
    ax.text(135, ty, 'Pulsed light', transform=tr, ha='center', va='center',
            fontsize=16, family='DejaVu Sans', color='k')

# drug application arrows
for ax, tail, ty in [(ax3, 1.245, 1.39), (ax7, 1.279, 1.43)]:
    tr = blended_transform_factory(ax.transData, ax.transAxes)
    ax.annotate('', xy=(stim_time, 1.0), xycoords=tr,
                xytext=(stim_time, tail), textcoords=tr,
                arrowprops=dict(arrowstyle='-|>,head_length=1.0,head_width=0.45',
                                mutation_scale=20, color='k', lw=1.5,
                                shrinkA=0, shrinkB=0))
    ax.text(131.7, ty, '100 µM 8-br-cGMP', transform=tr, ha='center',
            va='center', fontsize=16, family='DejaVu Sans', color='k')

# row labels
fig.text(32 / W, 1 - 235 / H, 'ON responses', rotation=90, ha='center',
         va='center', fontsize=22, family='DejaVu Sans')
fig.text(32 / W, 1 - 715 / H, 'OFF responses', rotation=90, ha='center',
         va='center', fontsize=22, family='DejaVu Sans')

fig.savefig('out.png', dpi=100)
